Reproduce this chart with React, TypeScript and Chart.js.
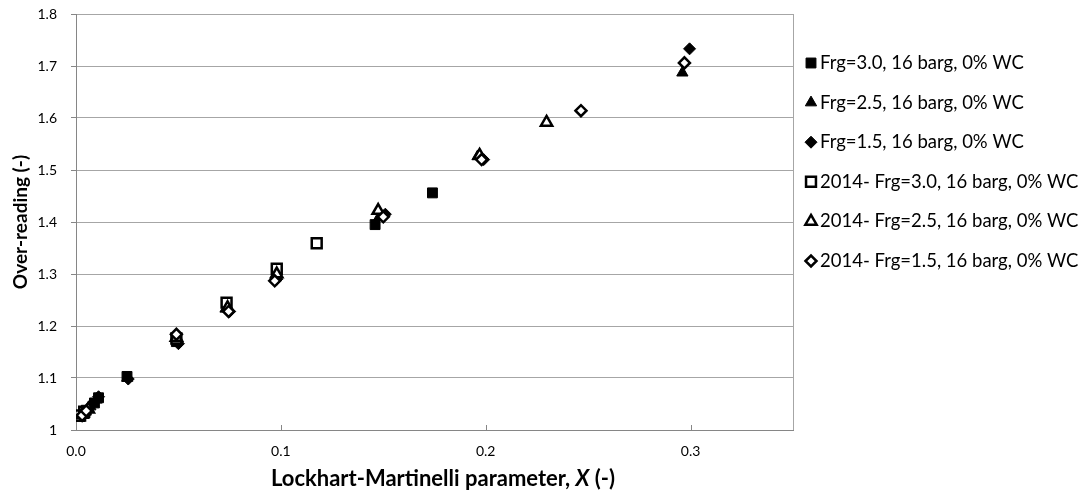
import React, { useEffect, useRef } from 'react';
import { Chart, registerables } from 'chart.js';
import { drawPoint } from 'chart.js/helpers';

Chart.register(...registerables);

const FONT = 'Lato, "Open Sans", sans-serif';

// Data: [Lockhart-Martinelli X, over-reading]
const frg30: number[][] = [
  [0.002, 1.026], [0.005, 1.038], [0.009, 1.052], [0.011, 1.062],
  [0.0249, 1.103], [0.049, 1.17], [0.098, 1.302], [0.146, 1.395], [0.174, 1.456],
];
const frg25: number[][] = [
  [0.003, 1.03], [0.007, 1.045], [0.01, 1.058], [0.025, 1.1], [0.0495, 1.172],
  [0.073, 1.233], [0.098, 1.296], [0.148, 1.41], [0.196, 1.526], [0.296, 1.687],
];
const frg15: number[][] = [
  [0.004, 1.034], [0.008, 1.05], [0.011, 1.064], [0.0255, 1.098], [0.05, 1.166],
  [0.075, 1.228], [0.098, 1.29], [0.151, 1.415], [0.199, 1.52], [0.2995, 1.733],
];
const frg30_2014: number[][] = [
  [0.002, 1.028], [0.004, 1.035], [0.049, 1.176], [0.0735, 1.245], [0.098, 1.31], [0.1175, 1.359],
];
const frg25_2014: number[][] = [
  [0.003, 1.03], [0.006, 1.04], [0.049, 1.178], [0.074, 1.235], [0.098, 1.3],
  [0.1475, 1.422], [0.197, 1.528], [0.2297, 1.5915],
];
const frg15_2014: number[][] = [
  [0.003, 1.028], [0.005, 1.037], [0.049, 1.184], [0.0745, 1.228], [0.097, 1.287],
  [0.15, 1.41], [0.198, 1.52], [0.2465, 1.614], [0.297, 1.706],
];

const seriesLabels = [
  'Frg=3.0, 16 barg, 0% WC',
  'Frg=2.5, 16 barg, 0% WC',
  'Frg=1.5, 16 barg, 0% WC',
  '2014- Frg=3.0, 16 barg, 0% WC',
  '2014- Frg=2.5, 16 barg, 0% WC',
  '2014- Frg=1.5, 16 barg, 0% WC',
];
const seriesData = [frg30, frg25, frg15, frg30_2014, frg25_2014, frg15_2014];
const pointStyles = ['rect', 'triangle', 'rectRot', 'rect', 'triangle', 'rectRot'];
const pointRadii = [7, 6.5, 6, 7, 6.5, 5.5];
const filled = [true, true, true, false, false, false];

const xTicks = [0, 0.1, 0.2, 0.3];

const customPlugin = {
  id: 'custom',
  afterDraw(chart: any) {
    const ctx = chart.ctx;
    const a = chart.chartArea;
    ctx.save();
    // right border
    ctx.strokeStyle = '#a6a6a6';
    ctx.lineWidth = 1;
    ctx.beginPath();
    ctx.moveTo(Math.round(a.right) + 0.5, a.top);
    ctx.lineTo(Math.round(a.right) + 0.5, a.bottom);
    ctx.stroke();
    // x inside tick marks
    ctx.strokeStyle = '#868686';
    const xs = chart.scales.x;
    xTicks.forEach((t) => {
      const px = Math.round(xs.getPixelForValue(t)) + 0.5;
      ctx.beginPath();
      ctx.moveTo(px, a.bottom - 5);
      ctx.lineTo(px, a.bottom);
      ctx.stroke();
    });
    // x title with italic X
    const parts = [
      { t: 'Lockhart-Martinelli parameter, ', f: `bold 22px ${FONT}` },
      { t: 'X', f: `italic bold 22px ${FONT}` },
      { t: ' (-)', f: `bold 22px ${FONT}` },
    ];
    let total = 0;
    parts.forEach((p) => { ctx.font = p.f; total += ctx.measureText(p.t).width; });
    let x = 443 - total / 2;
    ctx.fillStyle = '#000';
    ctx.textBaseline = 'middle';
    ctx.textAlign = 'left';
    parts.forEach((p) => { ctx.font = p.f; ctx.fillText(p.t, x, 479); x += ctx.measureText(p.t).width; });
    // legend
    ctx.font = `18.5px ${FONT}`;
    seriesLabels.forEach((lab, i) => {
      const y = 63 + i * 39.6;
      ctx.fillStyle = filled[i] ? '#000' : '#fff';
      ctx.strokeStyle = '#000';
      ctx.lineWidth = filled[i] ? 1 : 2.5;
      drawPoint(ctx, { pointStyle: pointStyles[i], radius: pointRadii[i], rotation: 0, borderWidth: ctx.lineWidth } as any, 811, y);
      ctx.fillStyle = '#000';
      ctx.fillText(lab, 820, y);
    });
    ctx.restore();
  },
};

export default function App() {
  const ref = useRef<HTMLCanvasElement>(null);
  useEffect(() => {
    if (!ref.current) return;
    const chart = new Chart(ref.current, {
      type: 'scatter',
      data: {
        datasets: seriesData.map((d, i) => ({
          label: seriesLabels[i],
          data: d.map(([x, y]) => ({ x, y })),
          pointStyle: pointStyles[i] as any,
          pointRadius: pointRadii[i],
          pointHoverRadius: pointRadii[i],
          backgroundColor: filled[i] ? '#000' : '#fff',
          borderColor: '#000',
          borderWidth: filled[i] ? 1 : 2.5,
          showLine: false,
          order: 6 - i,
        })),
      },
      options: {
        animation: false,
        responsive: false,
        devicePixelRatio: 1,
        layout: { padding: { left: 0, right: 293, top: 14, bottom: 0 } },
        plugins: { legend: { display: false }, tooltip: { enabled: false } },
        scales: {
          x: {
            type: 'linear',
            min: 0,
            max: 0.35,
            afterFit: (s: any) => { s.height = 65; s.paddingLeft = 0; s.paddingRight = 0; },
            afterBuildTicks: (s: any) => { s.ticks = xTicks.map((v) => ({ value: v })); },
            ticks: {
              callback: (v: any) => Number(v).toFixed(1),
              font: { family: FONT, size: 14 },
              color: '#000',
              padding: 13,
              maxRotation: 0,
            },
            grid: { display: true, drawOnChartArea: false, drawTicks: false },
            border: { display: true, color: '#868686', width: 1 },
          },
          y: {
            type: 'linear',
            min: 1,
            max: 1.8,
            afterFit: (s: any) => { s.width = 76; s.paddingTop = 0; s.paddingBottom = 0; },
            ticks: {
              stepSize: 0.1,
              callback: (v: any) => (Math.abs(Number(v) - 1) < 1e-9 ? '1' : Number(v).toFixed(1)),
              font: { family: FONT, size: 14 },
              color: '#000',
              padding: 14,
            },
            grid: { color: '#a6a6a6', tickLength: 5, tickColor: '#868686' },
            border: { display: true, color: '#868686', width: 1 },
            title: {
              display: true,
              text: 'Over-reading (-)',
              font: { family: FONT, size: 19, weight: 'bold' },
              color: '#000',
              padding: { top: 9, bottom: 0 },
            },
          },
        },
      },
      plugins: [customPlugin],
    });
    return () => chart.destroy();
  }, []);
  return (
    <div style={{ position: 'fixed', left: 0, top: 0, width: 1086, height: 495, background: '#fff' }}>
      <canvas ref={ref} width={1086} height={495} style={{ display: 'block' }} />
    </div>
  );
}
